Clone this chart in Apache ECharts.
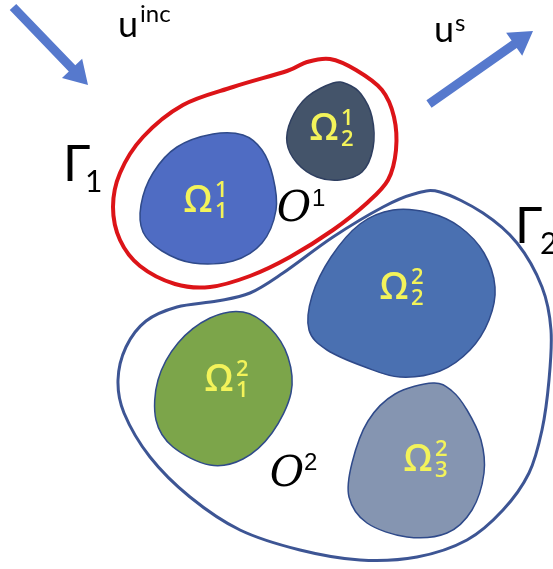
<!DOCTYPE html>
<html>
<head>
<meta charset="utf-8">
<script src="https://cdn.jsdelivr.net/npm/echarts@6/dist/echarts.min.js"></script>
<style>
html,body{margin:0;padding:0;background:#fff;}
#chart{width:553px;height:569px;}
</style>
</head>
<body>
<div id="chart"></div>
<script>
// ---- Diagram data (in diagram units, x right, y down) ----
const gamma1 = [[307,62],[287,71],[233,87],[183,105],[143,137],[120,173],[113,207],[120,240],[140,266],[175,284],[210,287],[250,276],[290,257],[333,230],[367,203],[388,180],[396,150],[394,117],[382,90],[356,70],[330,59]];
const gamma2 = [[440,192],[483,213],[517,243],[542,287],[551,330],[549,380],[542,430],[529,473],[503,510],[467,540],[417,557],[360,560],[300,550],[240,530],[190,497],[150,457],[124,413],[118,380],[126,347],[146,321],[177,307],[217,301],[250,293],[283,273],[333,237],[383,207],[414,194]];
const omega11 = [[243,135],[213,134],[177,147],[153,173],[141,205],[143,232],[162,251],[193,263],[233,261],[262,243],[276,210],[273,177],[262,150]];
const omega21 = [[333,83],[307,97],[291,120],[287,143],[297,163],[317,177],[340,180],[362,172],[373,148],[372,117],[361,94],[347,84]];
const omega22 = [[393,210],[360,224],[331,257],[312,296],[309,330],[327,350],[365,367],[400,377],[440,371],[470,350],[489,320],[495,287],[484,253],[460,227],[430,213]];
const omega12 = [[243,312],[210,318],[178,343],[158,380],[156,420],[173,447],[210,465],[243,459],[272,433],[291,393],[288,357],[270,328]];
const omega32 = [[433,383],[395,394],[368,421],[352,463],[349,497],[367,523],[407,537],[447,533],[472,510],[484,473],[481,440],[467,410],[452,391]];
const shapeNames = ['Γ1','Γ2','Ω11','Ω21','Ω22','Ω12','Ω32'];
const shapeOutlines = [gamma1, gamma2, omega11, omega21, omega22, omega12, omega32];

const arrowIn  = [[13,7],[88,85]];
const arrowOut = [[429,104],[533,31]];
const arrows = [arrowIn, arrowOut];

// Omega labels: anchor, superscript, subscript
const omegaAnchors = [[198,201],[324,129],[394,288],[219,380],[418,460]];
const omegaSup = ['1','1','2','2','2'];
const omegaSub = ['1','2','2','1','3'];

// Other labels: anchor, base, superscript/subscript
const textAnchors = [[118,25],[434,30],[63,165],[515,227],[294,210],[287,475]];
const textBase = ['u','u','Γ','Γ','O','O'];
const textSup = ['inc','s','','','1','2'];
const textSub = ['','','1','2','',''];

// ---- Styles ----
const shapeStyles = {
  'Γ1': {fill:null, stroke:'#DC1418', lineWidth:4},
  'Γ2': {fill:null, stroke:'#3D5594', lineWidth:3},
  'Ω11': {fill:'#4F6CC3', stroke:'#2F4A8A', lineWidth:1.5},
  'Ω21': {fill:'#44546A', stroke:'#2F3F60', lineWidth:1.5},
  'Ω22': {fill:'#4A70B1', stroke:'#2F4A8A', lineWidth:1.5},
  'Ω12': {fill:'#7CA54A', stroke:'#2F4A8A', lineWidth:1.5},
  'Ω32': {fill:'#8595B1', stroke:'#2F4A8A', lineWidth:1.5}
};
const textStyles = [
  {base:'36px Lato', sup:'24px Lato', supDx:22, supDy:-11, align:'left'},
  {base:'36px Lato', sup:'24px Lato', supDx:21, supDy:-7, align:'left'},
  {base:'50px Lato', sub:'30px Lato', subDx:22, subDy:17, align:'left'},
  {base:'50px Lato', sub:'30px Lato', subDx:25, subDy:17, align:'left'},
  {base:'italic 42px "DejaVu Serif"', sup:'24px "Liberation Sans"', supDx:18, supDy:-11, align:'center'},
  {base:'italic 42px "DejaVu Serif"', sup:'24px "Liberation Sans"', supDx:17, supDy:-12, align:'center'}
];

const chart = echarts.init(document.getElementById('chart'), null, {renderer:'canvas'});

function closedSplinePath(P) {
  const n = P.length;
  let d = 'M' + P[0][0] + ',' + P[0][1];
  for (let i = 0; i < n; i++) {
    const p0 = P[(i-1+n)%n], p1 = P[i], p2 = P[(i+1)%n], p3 = P[(i+2)%n];
    const c1 = [p1[0]+(p2[0]-p0[0])/6, p1[1]+(p2[1]-p0[1])/6];
    const c2 = [p2[0]-(p3[0]-p1[0])/6, p2[1]-(p3[1]-p1[1])/6];
    d += 'C' + c1[0] + ',' + c1[1] + ' ' + c2[0] + ',' + c2[1] + ' ' + p2[0] + ',' + p2[1];
  }
  return d + 'Z';
}

function arrowPoints(p0, p1) {
  const dx = p1[0]-p0[0], dy = p1[1]-p0[1];
  const L = Math.sqrt(dx*dx+dy*dy);
  const ux = dx/L, uy = dy/L, nx = -uy, ny = ux;
  const sw = 4.5, hl = 23, hw = 14;
  const nb = [p1[0]-ux*hl, p1[1]-uy*hl];
  return [
    [p0[0]+nx*sw, p0[1]+ny*sw],
    [nb[0]+nx*sw, nb[1]+ny*sw],
    [nb[0]+nx*hw, nb[1]+ny*hw],
    [p1[0], p1[1]],
    [nb[0]-nx*hw, nb[1]-ny*hw],
    [nb[0]-nx*sw, nb[1]-ny*sw],
    [p0[0]-nx*sw, p0[1]-ny*sw]
  ];
}

const option = {
  animation:false,
  backgroundColor:'#ffffff',
  grid:{left:0,right:0,top:0,bottom:0},
  xAxis:{type:'value',min:0,max:553,show:false},
  yAxis:{type:'value',min:0,max:569,inverse:true,show:false},
  series:[
    {
      type:'custom', name:'regions', silent:true, clip:false,
      data: shapeOutlines.map((s,i)=>[s[0][0], s[0][1], i]),
      renderItem(params, api){
        const i = params.dataIndex;
        const pts = shapeOutlines[i].map(p=>api.coord(p));
        const st = shapeStyles[shapeNames[i]];
        return {type:'path', shape:{pathData:closedSplinePath(pts)}, style:{fill:st.fill, stroke:st.stroke, lineWidth:st.lineWidth}};
      }
    },
    {
      type:'custom', name:'arrows', silent:true, clip:false,
      data: arrows.map((a,i)=>[a[0][0], a[0][1], i]),
      renderItem(params, api){
        const a = arrows[params.dataIndex];
        const p0 = api.coord(a[0]), p1 = api.coord(a[1]);
        return {type:'polygon', shape:{points:arrowPoints(p0,p1)}, style:{fill:'#5679CD'}};
      }
    },
    {
      type:'custom', name:'omegaLabels', silent:true, clip:false,
      data: omegaAnchors.map((a,i)=>[a[0], a[1], i]),
      renderItem(params, api){
        const i = params.dataIndex;
        const c = api.coord(omegaAnchors[i]);
        const col = '#F3F35A';
        return {type:'group', children:[
          {type:'text', x:c[0], y:c[1], style:{text:'Ω', fill:col, font:'600 37px "Open Sans"', align:'center', verticalAlign:'middle'}},
          {type:'text', x:c[0]+17, y:c[1]-10, style:{text:omegaSup[i], fill:col, font:'600 22px "Open Sans"', align:'left', verticalAlign:'middle'}},
          {type:'text', x:c[0]+17, y:c[1]+11, style:{text:omegaSub[i], fill:col, font:'600 22px "Open Sans"', align:'left', verticalAlign:'middle'}}
        ]};
      }
    },
    {
      type:'custom', name:'textLabels', silent:true, clip:false,
      data: textAnchors.map((a,i)=>[a[0], a[1], i]),
      renderItem(params, api){
        const i = params.dataIndex;
        const c = api.coord(textAnchors[i]);
        const ts = textStyles[i];
        const kids = [{type:'text', x:c[0], y:c[1], style:{text:textBase[i], fill:'#000', font:ts.base, align:ts.align, verticalAlign:'middle'}}];
        if (textSup[i]) kids.push({type:'text', x:c[0]+ts.supDx, y:c[1]+ts.supDy, style:{text:textSup[i], fill:'#000', font:ts.sup, align:'left', verticalAlign:'middle'}});
        if (textSub[i]) kids.push({type:'text', x:c[0]+ts.subDx, y:c[1]+ts.subDy, style:{text:textSub[i], fill:'#000', font:ts.sub, align:'left', verticalAlign:'middle'}});
        return {type:'group', children:kids};
      }
    }
  ]
};
chart.setOption(option);
</script>
</body>
</html>
